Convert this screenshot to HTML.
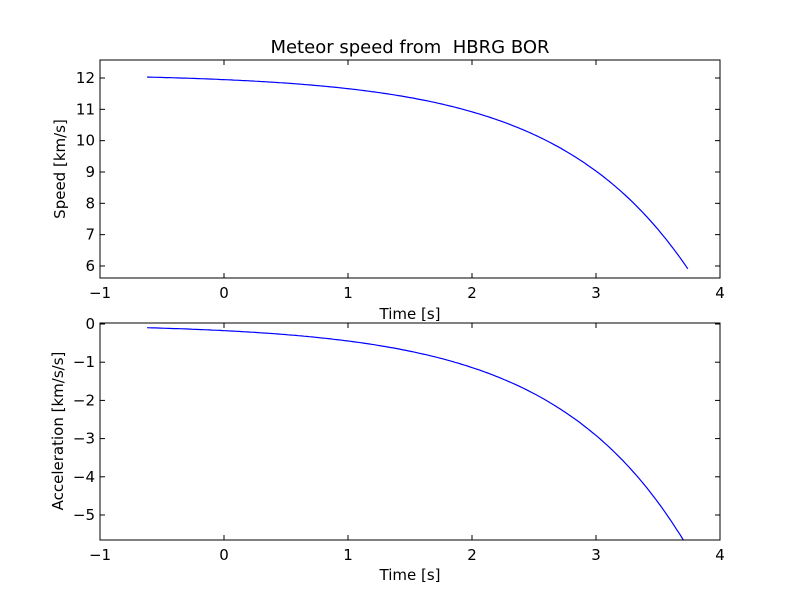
<!DOCTYPE html>
<html><head><meta charset="utf-8"><style>
body{margin:0;background:#fff}
svg{font-family:"DejaVu Sans","Liberation Sans",sans-serif;font-size:15px}
</style></head><body>
<svg id="s" width="800" height="600" xmlns="http://www.w3.org/2000/svg">
<rect width="800" height="600" fill="#fff"/>
<defs>
<clipPath id="c1"><rect x="100" y="60" width="620" height="218"/></clipPath>
<clipPath id="c2"><rect x="100" y="323" width="620" height="217"/></clipPath>
</defs>
<text x="410" y="53" text-anchor="middle" font-size="18">Meteor speed from&#160; HBRG BOR</text>
<g id="g"></g>
<path id="p1" clip-path="url(#c1)" fill="none" stroke="#00f" stroke-width="1.2"/>
<path id="p2" clip-path="url(#c2)" fill="none" stroke="#00f" stroke-width="1.2"/>
<rect x="100" y="60" width="620" height="218" fill="none" stroke="#000"/>
<rect x="100" y="323" width="620" height="217" fill="none" stroke="#000"/>
<text x="410" y="319" text-anchor="middle">Time [s]</text>
<text x="410" y="580" text-anchor="middle">Time [s]</text>
<text transform="translate(65,169) rotate(-90)" text-anchor="middle">Speed [km/s]</text>
<text transform="translate(63,431) rotate(-90)" text-anchor="middle">Acceleration [km/s/s]</text>
</svg>
<script>
var g=document.getElementById('g'),h='';
function X(t){return 224+124*t}
function Y1(v){return 78+(12-v)*31.33}
function Y2(a){return 324-a*38.2}
for(var t=-1;t<=4;t++){var x=X(t);
 [[60,278],[323,540]].forEach(function(r){
 h+='<line x1="'+x+'" x2="'+x+'" y1="'+r[0]+'" y2="'+(r[0]+5)+'" stroke="#000"/>';
 h+='<line x1="'+x+'" x2="'+x+'" y1="'+r[1]+'" y2="'+(r[1]-5)+'" stroke="#000"/>';
 h+='<text x="'+x+'" y="'+(r[1]+20)+'" text-anchor="middle">'+(t<0?'\u2212'+(-t):t)+'</text>';});}
for(var v=6;v<=12;v++){var y=Y1(v);
 h+='<line x1="100" x2="105" y1="'+y+'" y2="'+y+'" stroke="#000"/><line x1="720" x2="715" y1="'+y+'" y2="'+y+'" stroke="#000"/>';
 h+='<text x="95" y="'+(y+5)+'" text-anchor="end">'+v+'</text>';}
for(var a=-5;a<=0;a++){var y=Y2(a);
 h+='<line x1="100" x2="105" y1="'+y+'" y2="'+y+'" stroke="#000"/><line x1="720" x2="715" y1="'+y+'" y2="'+y+'" stroke="#000"/>';
 h+='<text x="95" y="'+(y+5)+'" text-anchor="end">'+(a<0?'\u2212'+(-a):a)+'</text>';}
g.innerHTML=h;
var d1='',d2='',k=0.94,b=0.185,A=12.133;
for(var i=0;i<=200;i++){var t=-0.62+(3.74+0.62)*i/200;var e=Math.exp(k*t);
 d1+=(i?'L':'M')+X(t).toFixed(1)+' '+Y1(A-b*e).toFixed(1);
 d2+=(i?'L':'M')+X(t).toFixed(1)+' '+Y2(-b*k*e).toFixed(1);}
document.getElementById('p1').setAttribute('d',d1);
document.getElementById('p2').setAttribute('d',d2);
</script>
</body></html>
